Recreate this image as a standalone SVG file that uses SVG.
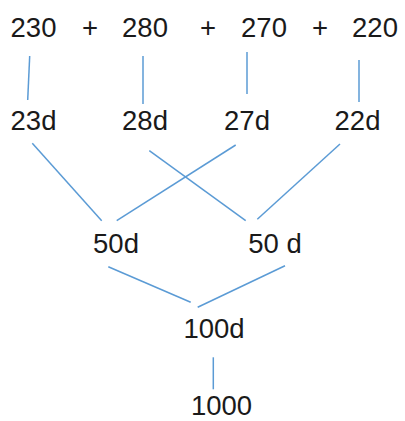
<svg xmlns="http://www.w3.org/2000/svg" width="405" height="421" viewBox="0 0 405 421">
<style>
text{font-family:"Liberation Sans",Arial,sans-serif;font-size:27.5px;fill:#1a1a1a;text-anchor:middle}
.c line{stroke:#5b9bd5;stroke-width:1.5;fill:none}
</style>
<rect width="405" height="421" fill="#fff"/>
<g id="top-row">
<text x="33.5" y="37">230</text>
<text x="90" y="37">+</text>
<text x="145" y="37">280</text>
<text x="208" y="37">+</text>
<text x="264" y="37">270</text>
<text x="320" y="37">+</text>
<text x="375" y="37">220</text>
</g>
<g id="n23d"><text x="33.5" y="130">23d</text></g>
<g id="n28d"><text x="145" y="130">28d</text></g>
<g id="n27d"><text x="247" y="130">27d</text></g>
<g id="n22d"><text x="357.5" y="130">22d</text></g>
<g id="n50dL"><text x="116" y="253">50d</text></g>
<g id="n50dR"><text x="275" y="253">50 d</text></g>
<g id="n100d"><text x="214" y="338">100d</text></g>
<g id="n1000"><text x="221.5" y="415">1000</text></g>
<g class="c" id="connectors">
<line x1="29.7" y1="56" x2="27.7" y2="100"/>
<line x1="143" y1="56" x2="143" y2="104"/>
<line x1="247" y1="52" x2="247" y2="94"/>
<line x1="359" y1="60" x2="359" y2="102"/>
<line x1="32.3" y1="143.3" x2="101.7" y2="220.7"/>
<line x1="149.3" y1="150.7" x2="245.7" y2="220.7"/>
<line x1="235.7" y1="145" x2="116.7" y2="220.7"/>
<line x1="340" y1="144" x2="257.3" y2="219.3"/>
<line x1="108.3" y1="266.7" x2="190.7" y2="302.3"/>
<line x1="285" y1="265.7" x2="197.7" y2="307.3"/>
<line x1="213.3" y1="357.3" x2="213.3" y2="389.3"/>
</g>
</svg>
